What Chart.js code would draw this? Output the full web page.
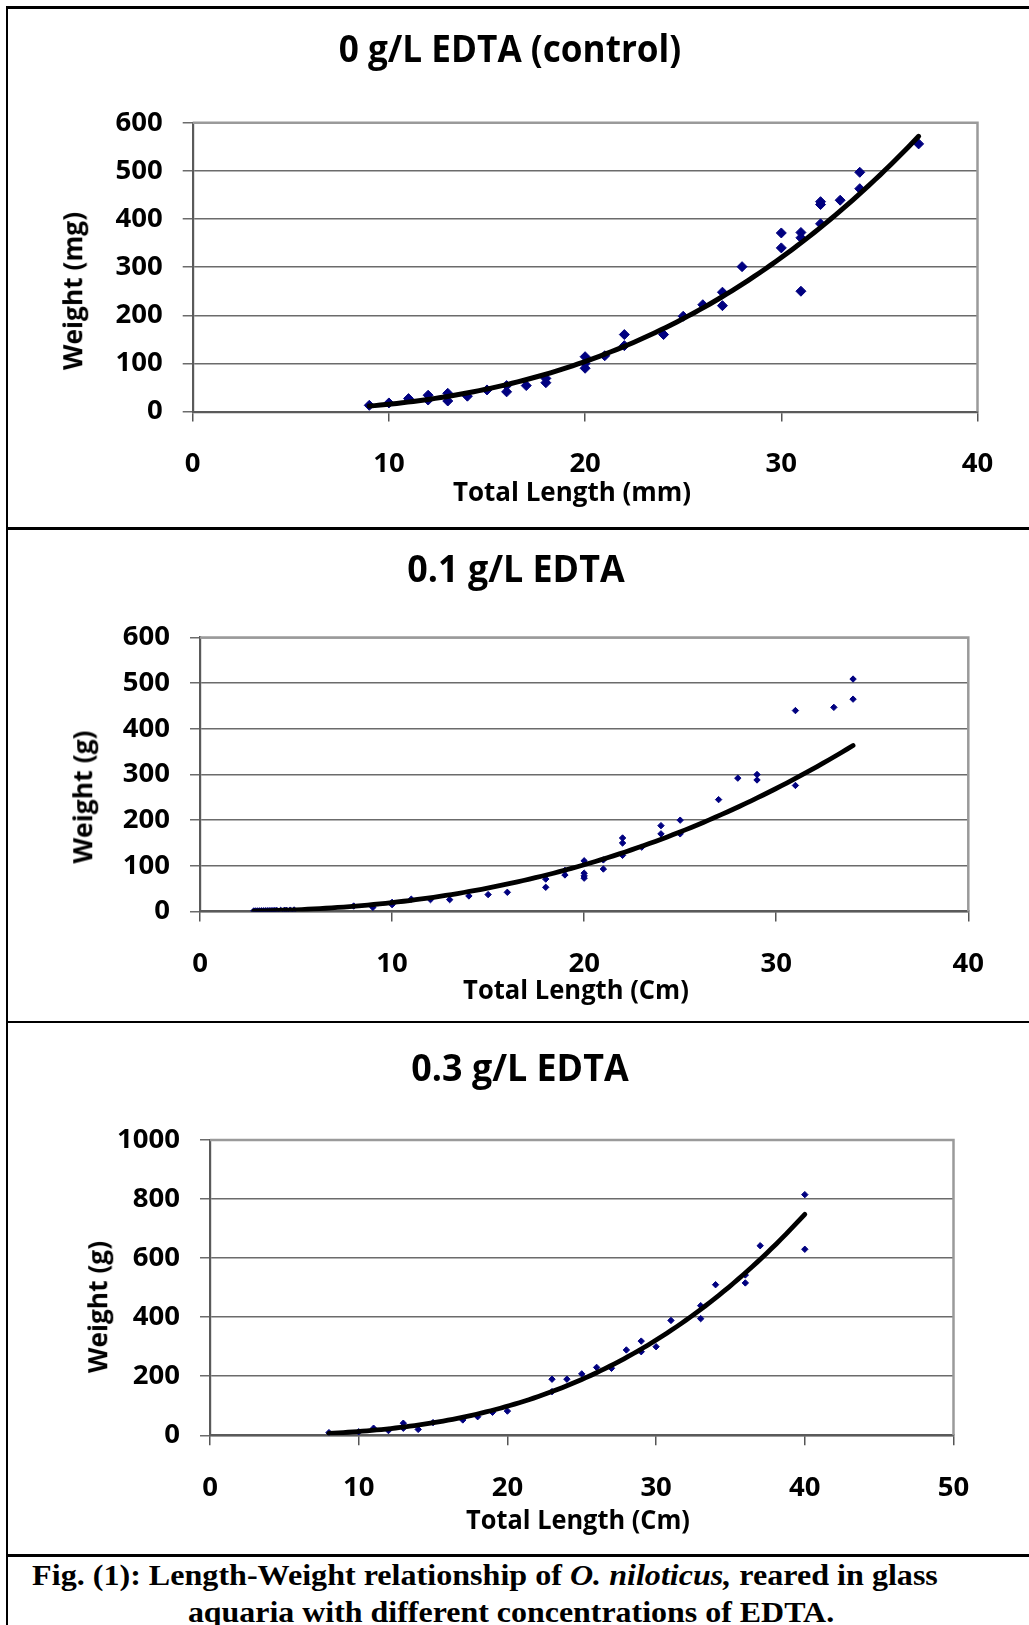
<!DOCTYPE html>
<html>
<head>
<meta charset="utf-8">
<script src="https://cdn.jsdelivr.net/npm/chart.js@4.4.1/dist/chart.umd.min.js"></script>
<style>
html,body{margin:0;padding:0;background:#fff;}
body{width:1029px;height:1625px;position:relative;overflow:hidden;font-family:"Open Sans",sans-serif;}
.hl{position:absolute;background:#000;}
canvas{position:absolute;left:0;}
.t{position:absolute;left:0;top:0;font-weight:bold;white-space:nowrap;color:#000;line-height:1;transform-origin:50% 50%;}
.cap{font-family:"Liberation Serif","Times New Roman",serif;font-size:30px;}
</style>
</head>
<body>
<!-- frame -->
<div class="hl" style="left:5.5px;top:6.2px;width:1024px;height:2.6px;"></div>
<div class="hl" style="left:5.5px;top:6.2px;width:2.4px;height:1619px;"></div>
<div class="hl" style="left:5.5px;top:527.3px;width:1024px;height:2.4px;"></div>
<div class="hl" style="left:5.5px;top:1020.8px;width:1024px;height:2.4px;"></div>
<div class="hl" style="left:5.5px;top:1554.3px;width:1024px;height:2.4px;"></div>

<canvas id="c1" width="1029" height="520" style="top:0px;"></canvas>
<canvas id="c2" width="1029" height="490" style="top:530px;"></canvas>
<canvas id="c3" width="1029" height="530" style="top:1024px;"></canvas>

<div class="t" style="font-size:37px" data-cx="510" data-cy="47" data-w="343">0 g/L EDTA (control)</div>
<div class="t" style="font-size:27.5px" data-cx="572" data-cy="491" data-w="238">Total Length (mm)</div>
<div class="t" style="font-size:27.5px" data-cx="72" data-cy="291" data-w="158" data-rot="1">Weight (mg)</div>

<div class="t" style="font-size:37px" data-cx="515.5" data-cy="567" data-w="217">0.1 g/L EDTA</div>
<div class="t" style="font-size:27.5px" data-cx="576" data-cy="989" data-w="226">Total Length (Cm)</div>
<div class="t" style="font-size:27.5px" data-cx="82" data-cy="797" data-w="133" data-rot="1">Weight (g)</div>

<div class="t" style="font-size:37px" data-cx="519.5" data-cy="1066" data-w="217">0.3 g/L EDTA</div>
<div class="t" style="font-size:27.5px" data-cx="578" data-cy="1519" data-w="224">Total Length (Cm)</div>
<div class="t" style="font-size:27.5px" data-cx="97" data-cy="1307" data-w="132" data-rot="1">Weight (g)</div>

<div class="t cap" data-cx="484.5" data-cy="1575" data-w="906">Fig. (1): Length-Weight relationship of <i>O. niloticus,</i> reared in glass</div>
<div class="t cap" data-cx="511" data-cy="1611.5" data-w="646">aquaria with different concentrations of EDTA.</div>

<script>
// ---- Panel 1: 0 g/L EDTA (control) ----
const lenControl = [9,10,11,12,12,13,13,14,15,16,16,17,18,18,20,20,20,21,22,22,24,25,26,27,27,28,30,30,31,31,31,32,32,32,33,34,34,37];
const wtControl  = [13,18,27,34,24,38,22,32,45,54,41,54,69,60,114,100,90,116,160,137,160,198,222,248,220,301,371,340,372,361,250,436,430,390,439,497,463,556];

// ---- Panel 2: 0.1 g/L EDTA ----
const lenEdta01 = [2.8,2.9,3.0,3.1,3.2,3.3,3.4,3.5,3.6,3.7,3.8,3.9,4.0,4.2,4.4,4.5,4.7,4.9,
  8,9,10,10,11,12,13,14,15,16,18,18,19,19,20,20,20,20,21,21,22,22,22,23,24,24,25,25,27,28,29,29,31,31,33,34,34];
const wtEdta01  = [1.2,1.2,1.3,1.4,1.5,1.5,1.6,1.7,1.8,1.9,2.0,2.1,2.2,2.4,2.6,2.8,3.0,3.3,
  12,9,20,15,27,26,26,34,37,42,71,53,90,80,111,84,73,78,113,93,161,150,123,141,188,170,200,170,245,292,300,288,440,276,447,509,465];

// ---- Panel 3: 0.3 g/L EDTA ----
const lenEdta03 = [8,10,11,12,13,13,14,15,17,18,19,20,23,23,24,25,26,27,28,29,29,30,31,33,33,34,36,36,37,40,40];
const wtEdta03  = [9,12,24,16,41,24,20,43,52,63,78,82,190,148,190,208,230,227,289,319,283,300,389,439,395,510,543,516,642,815,630];

// axis tick settings
const xTicksControl = {min:0, max:40, step:10};
const yTicksControl = {min:0, max:600, step:100};
const xTicks01 = {min:0, max:40, step:10};
const yTicks01 = {min:0, max:600, step:100};
const xTicks03 = {min:0, max:50, step:10};
const yTicks03 = {min:0, max:1000, step:200};

// power trendline (least squares in log-log space, as a spreadsheet power trendline)
function powerFit(xs, ys){
  let n=xs.length, sx=0, sy=0, sxx=0, sxy=0;
  for(let i=0;i<n;i++){const lx=Math.log(xs[i]), ly=Math.log(ys[i]); sx+=lx; sy+=ly; sxx+=lx*lx; sxy+=lx*ly;}
  const b=(n*sxy-sx*sy)/(n*sxx-sx*sx);
  const a=Math.exp((sy-b*sx)/n);
  return {a,b};
}

const framePlugin = {
  id:'frame',
  beforeDatasetsDraw(chart){
    const {ctx, chartArea:ca} = chart;
    ctx.save();
    ctx.strokeStyle='#9a9a9a';
    ctx.lineWidth=2.5;
    ctx.beginPath();
    ctx.moveTo(ca.left, ca.top);
    ctx.lineTo(ca.right, ca.top);
    ctx.lineTo(ca.right, ca.bottom);
    ctx.stroke();
    ctx.restore();
  }
};

function makeChart(id, xs, ys, xt, yt, geom){
  const fit = powerFit(xs, ys);
  const pts = xs.map((v,i)=>({x:v, y:ys[i]}));
  const xmin = Math.min(...xs), xmax = Math.max(...xs);
  const trend = [];
  const N = 100;
  for(let i=0;i<=N;i++){const xv = xmin+(xmax-xmin)*i/N; trend.push({x:xv, y:fit.a*Math.pow(xv, fit.b)});}
  const tickFont = {family:'"Open Sans", sans-serif', weight:'bold', size:27.5};
  return new Chart(document.getElementById(id), {
    type:'scatter',
    data:{datasets:[
      {type:'line', data:trend, borderColor:'#000', borderWidth:geom.lw, pointRadius:0, fill:false, tension:0, borderCapStyle:'round', borderJoinStyle:'round'},
      {type:'scatter', data:pts, pointStyle:'rectRot', pointRadius:geom.r, pointHoverRadius:geom.r, backgroundColor:'#000080', borderColor:'#000080', borderWidth:1}
    ]},
    options:{
      responsive:false, animation:false, events:[],
      layout:{padding:{left:0, top:geom.top, right:geom.right, bottom:0}},
      plugins:{legend:{display:false}, tooltip:{enabled:false}},
      scales:{
        x:{type:'linear', min:xt.min, max:xt.max,
           ticks:{stepSize:xt.step, font:tickFont, color:'#000', padding:26, maxRotation:0, callback:v=>String(v)},
           grid:{drawOnChartArea:false, drawTicks:true, tickLength:10, color:'#555', lineWidth:1.5},
           border:{display:true, color:'#5a5a5a', width:2.2},
           afterFit(s){s.height=geom.xh;}},
        y:{type:'linear', min:yt.min, max:yt.max,
           ticks:{stepSize:yt.step, font:tickFont, color:'#000', padding:20, callback:v=>String(v)},
           grid:{color:'#6b6b6b', lineWidth:1.5, tickLength:10, drawTicks:true},
           border:{display:true, color:'#5a5a5a', width:2.2},
           afterFit(s){s.width=geom.yw;}}
      }
    },
    plugins:[framePlugin]
  });
}

function placeTexts(){
  document.querySelectorAll('.t').forEach(el=>{
    const cx=+el.dataset.cx, cy=+el.dataset.cy, w=+el.dataset.w;
    const nat=el.offsetWidth;
    const s=w/nat;
    el.style.left=cx+'px'; el.style.top=cy+'px';
    el.style.transform='translate(-50%,-50%) '+(el.dataset.rot?'rotate(-90deg) ':'')+'scaleX('+s.toFixed(4)+')';
  });
}

function build(){
  placeTexts();
  makeChart('c1', lenControl, wtControl, xTicksControl, yTicksControl,
    {top:122.7, right:1029-977.5, xh:520-411.6, yw:192.7, r:5, lw:5});
  makeChart('c2', lenEdta01, wtEdta01, xTicks01, yTicks01,
    {top:637.5-530, right:1029-968.3, xh:490-(911.5-530), yw:200, r:3.2, lw:4.8});
  makeChart('c3', lenEdta03, wtEdta03, xTicks03, yTicks03,
    {top:1140-1024, right:1029-953.5, xh:530-(1435.3-1024), yw:210, r:3.2, lw:4.8});
}
Promise.all([
  document.fonts.load('bold 27px "Open Sans"'),
  document.fonts.load('bold 30px "Liberation Serif"'),
  document.fonts.load('italic bold 30px "Liberation Serif"')
]).then(build, build);
</script>
</body>
</html>
